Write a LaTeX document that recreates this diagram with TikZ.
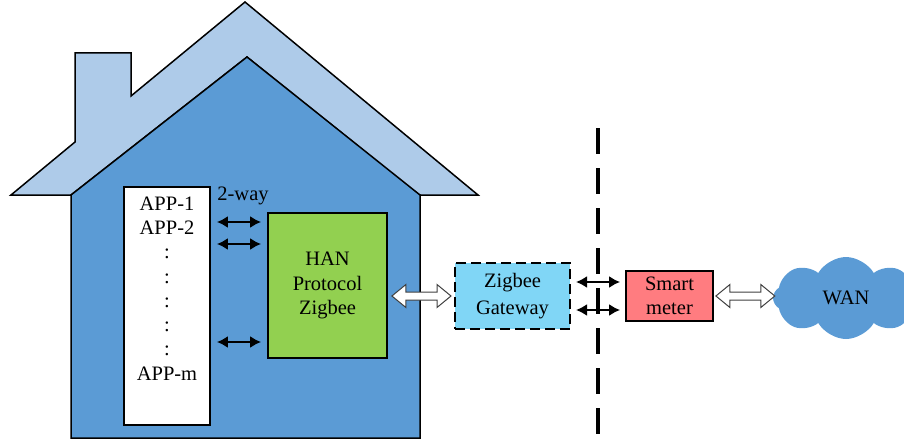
\documentclass[tikz,border=0pt]{standalone}
\usepackage{fontspec}
\setmainfont{Liberation Serif}
\usetikzlibrary{arrows.meta,calc,shapes.symbols}

\definecolor{housebody}{HTML}{5B9BD5}
\definecolor{houseroof}{HTML}{AECBE9}
\definecolor{hangreen}{HTML}{92D050}
\definecolor{gwcyan}{HTML}{80D6F6}
\definecolor{meterred}{HTML}{FF7C80}
\definecolor{hollowline}{HTML}{404040}

\tikzset{
  outline/.style={draw=black, line width=1.5pt, line join=miter},
  box/.style={outline, line width=1.8pt, inner sep=0pt, align=center},
  biarrow/.style={{Latex[length=11pt,width=12pt]}-{Latex[length=11pt,width=12pt]},
                  line width=2pt, shorten <=#1, shorten >=#1},
  biarrow/.default=6pt,
  hollowarrow/.style={draw=hollowline, fill=white, line width=1pt, line join=miter},
  divider/.style={line width=3.2pt, dash pattern=on 26pt off 14pt},
}

% Wide outlined double-headed arrow between two points on one horizontal line
\newcommand\hollowlink[2]{%
  \path[hollowarrow] let \p1=(#1), \p2=(#2) in
    (\x1,\y1) -- (\x1+14pt,\y1+11.5pt) -- (\x1+14pt,\y1+4pt)
    -- (\x2-14pt,\y1+4pt) -- (\x2-14pt,\y1+11.5pt) -- (\x2,\y1)
    -- (\x2-14pt,\y1-11.5pt) -- (\x2-14pt,\y1-4pt)
    -- (\x1+14pt,\y1-4pt) -- (\x1+14pt,\y1-11.5pt) -- cycle;}

\begin{document}
\begin{tikzpicture}[x=1pt, y=-1pt, font=\fontsize{20.5}{24.3}\selectfont]
\useasboundingbox (0,0) rectangle (904,444);
\clip (0,0) rectangle (904,444);

% roof with chimney
\path[outline, fill=houseroof]
  (11,195) -- (75,142) -- (75,53) -- (131,53) -- (131,96) -- (245,2)
  -- (478,195) -- (419,195) -- (247,57) -- (71,195) -- cycle;
% house body
\path[outline, fill=housebody]
  (71,195) -- (247,57) -- (420,195) -- (420,438) -- (71,438) -- cycle;

% appliance list
\node[box, fill=white, minimum width=86pt, minimum height=238pt] (apps) at (167,306) {};
\node[anchor=north, align=center] (applist) at ($(apps.north)+(0,7)$)
  {APP-1\\APP-2\\:\\:\\:\\:\\:\\APP-m};

% HAN block
\node[box, fill=hangreen, minimum width=119pt, minimum height=145pt] (han) at (327.5,285.5)
  {HAN\\Protocol\\Zigbee};
\node (twoway) at (243,196) {2-way};

% gateway, smart meter and WAN
\node[box, fill=gwcyan, line width=2pt, dash pattern=on 10pt off 5pt,
      minimum width=115pt, minimum height=66pt]
  (gw) at (512.5,296) {Zigbee\\[2pt]Gateway};
\node[box, fill=meterred, minimum width=87pt, minimum height=50pt] (meter) at (669.5,296)
  {Smart\\meter};
\node[cloud, cloud puffs=8, cloud puff arc=120, aspect=1.8, fill=housebody, draw=none,
      minimum width=146pt, minimum height=82pt, inner sep=0pt] (wan) at (846,298) {WAN};

% premises boundary
\coordinate (divtop) at (598,128);
\coordinate (divbot) at (598,446);
\draw[divider] (divtop) -- (divbot);

% appliance links
\coordinate (r1) at (0,222);
\coordinate (r2) at (0,244);
\coordinate (r3) at (0,342);
\foreach \r in {r1,r2,r3}
  \draw[biarrow] (apps.east |- \r) -- (han.west |- \r);

% gateway to meter links
\coordinate (g1) at (0,282);
\coordinate (g2) at (0,310);
\foreach \r in {g1,g2}
  \draw[biarrow=5pt] (gw.east |- \r) -- (meter.west |- \r);

% wide links
\hollowlink{$(han.east |- gw.west)+(4,0)$}{$(gw.west)+(-3,0)$}
\hollowlink{$(meter.east)+(2,0)$}{$(wan.west)+(2,0)$}
\end{tikzpicture}
\end{document}
